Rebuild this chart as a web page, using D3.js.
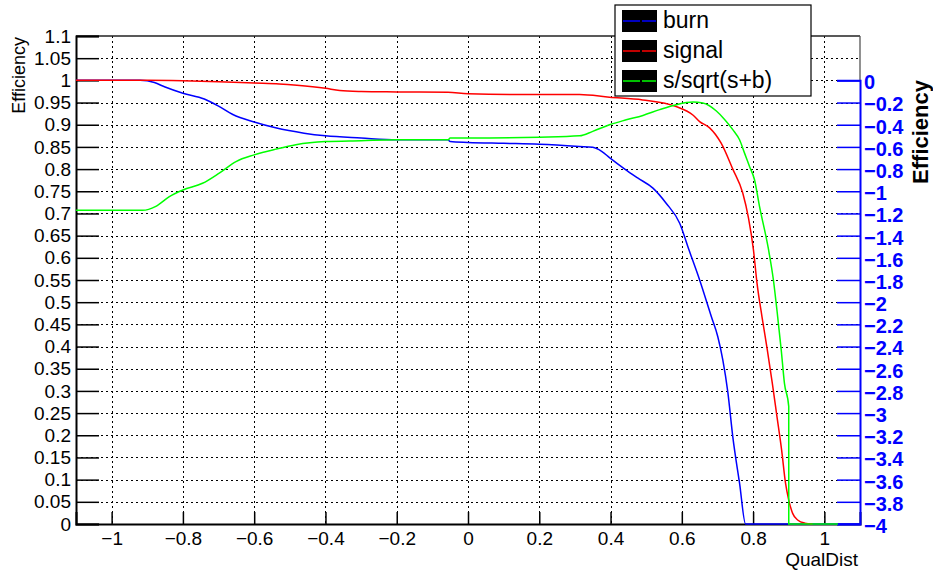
<!DOCTYPE html>
<html lang="en">
<head>
<meta charset="UTF-8">
<title>Efficiency vs QualDist</title>
<script src="https://d3js.org/d3.v7.min.js"></script>
<style>
	body{margin:0;background:#fff}
	svg{display:block;font-family:"Liberation Sans",Arial,sans-serif}
</style>
</head>
<body>
<svg id="chart" width="933" height="572"></svg>
<script>
// values
var burnX = [-1.1,-0.92,-0.88,-0.85,-0.8,-0.74,-0.7,-0.66,-0.6,-0.54,-0.46,-0.4,-0.3,-0.2,-0.056,-0.05,0,0.1,0.2,0.313,0.35,0.375,0.397,0.44,0.476,0.519,0.556,0.594,0.62,0.65,0.683,0.701,0.715,0.729,0.743,0.762,0.779,1.1];
var burnY = [1,1,0.995,0.985,0.971,0.958,0.942,0.923,0.906,0.893,0.881,0.875,0.870,0.866,0.866,0.862,0.860,0.858,0.856,0.851,0.849,0.840,0.826,0.800,0.780,0.757,0.723,0.678,0.618,0.550,0.467,0.422,0.370,0.298,0.197,0.092,0,0];

var signalX = [-1.1,-0.9,-0.8,-0.7,-0.6,-0.53,-0.48,-0.4,-0.36,-0.3,-0.2,-0.056,0,0.2,0.313,0.397,0.49,0.584,0.631,0.65,0.678,0.71,0.743,0.771,0.787,0.801,0.811,0.825,0.84,0.854,0.867,0.88,0.891,0.9,0.911,0.925,0.945,0.967];
var signalY = [1,1,0.999,0.997,0.994,0.992,0.989,0.982,0.977,0.975,0.974,0.973,0.970,0.968,0.968,0.962,0.956,0.941,0.922,0.907,0.893,0.859,0.800,0.746,0.690,0.618,0.543,0.467,0.392,0.317,0.242,0.167,0.092,0.054,0.024,0.009,0.002,0];

var ssbX = [-1.1,-0.913,-0.876,-0.838,-0.8,-0.745,-0.698,-0.651,-0.6,-0.539,-0.483,-0.4,-0.3,-0.2,-0.056,-0.05,0,0.2,0.313,0.35,0.397,0.444,0.491,0.538,0.584,0.631,0.659,0.697,0.72,0.743,0.762,0.776,0.79,0.804,0.818,0.843,0.857,0.869,0.879,0.888,0.9,0.9001,1.038];
var ssbY = [0.707,0.707,0.716,0.738,0.753,0.768,0.791,0.817,0.832,0.845,0.855,0.862,0.864,0.866,0.866,0.870,0.870,0.872,0.875,0.885,0.900,0.911,0.921,0.934,0.945,0.951,0.949,0.931,0.912,0.889,0.866,0.836,0.806,0.776,0.716,0.620,0.550,0.467,0.392,0.317,0.265,0,0];

var xTicks = [-1,-0.8,-0.6,-0.4,-0.2,0,0.2,0.4,0.6,0.8,1];
var yTicks = d3.range(0,23).map(function(i){return +(i*0.05).toFixed(2)});
var rTicks = d3.range(0,21).map(function(i){return +(-i*0.2).toFixed(1)});

var series = [
	{name:"burn", x:burnX, y:burnY, color:"#0000ff"},
	{name:"signal", x:signalX, y:signalY, color:"#ff0000"},
	{name:"s/sqrt(s+b)", x:ssbX, y:ssbY, color:"#00ff00"}
];

var svg = d3.select("#chart");
var L = 76, R = 860, T = 36, B = 524;

var x = d3.scaleLinear().domain([-1.1,1.1]).range([L,R]);
var y = d3.scaleLinear().domain([0,1.1]).range([B,T]);
var yr = d3.scaleLinear().domain([-4,0]).range([B,y(1)]);

function fmt(v){ return String(+v.toFixed(2)).replace("-","\u2212"); }

// grid
var grid = svg.append("g").attr("shape-rendering","crispEdges");
grid.selectAll(".gx").data(xTicks).enter().append("line")
	.attr("x1",function(d){return Math.round(x(d))+0.5}).attr("x2",function(d){return Math.round(x(d))+0.5})
	.attr("y1",T).attr("y2",B)
	.attr("stroke","#000").attr("stroke-dasharray","2,3");
grid.selectAll(".gy").data(yTicks.slice(1,22)).enter().append("line")
	.attr("y1",function(d){return Math.round(y(d))+0.5}).attr("y2",function(d){return Math.round(y(d))+0.5})
	.attr("x1",L).attr("x2",R)
	.attr("stroke","#000").attr("stroke-dasharray","2,3");

// frame
svg.append("line").attr("x1",L).attr("x2",R).attr("y1",T).attr("y2",T).attr("stroke","#222").attr("stroke-width",1.3);
svg.append("line").attr("x1",R).attr("x2",R).attr("y1",T).attr("y2",y(1)).attr("stroke","#555").attr("stroke-width",1.3);

// left axis
var yAxis = d3.axisLeft(y).tickValues(yTicks).tickSize(-23).tickPadding(5).tickFormat(fmt);
var gy = svg.append("g").attr("transform","translate("+L+",0)").call(yAxis);
gy.select(".domain").attr("stroke","#000").attr("stroke-width",2);
gy.selectAll(".tick line").attr("stroke","#000").attr("stroke-width",1.5);
gy.selectAll(".tick text").attr("font-size",19).attr("fill","#000").attr("font-family","Liberation Sans, Arial, sans-serif");

// bottom axis
var xAxis = d3.axisBottom(x).tickValues(xTicks).tickSize(-12).tickPadding(8).tickFormat(fmt);
var gx = svg.append("g").attr("transform","translate(0,"+B+")").call(xAxis);
gx.select(".domain").attr("stroke","#000").attr("stroke-width",2);
gx.selectAll(".tick line").attr("stroke","#000").attr("stroke-width",1.5);
gx.selectAll(".tick text").attr("font-size",19).attr("fill","#000").attr("font-family","Liberation Sans, Arial, sans-serif");

// right axis
var rAxis = d3.axisRight(yr).tickValues(rTicks).tickSize(-23).tickPadding(4).tickFormat(fmt);
var gr = svg.append("g").attr("transform","translate("+R+",0)").call(rAxis);
gr.select(".domain").attr("stroke","#0000ff").attr("stroke-width",2);
gr.selectAll(".tick line").attr("stroke","#0000ff").attr("stroke-width",1.5);
gr.selectAll(".tick text").attr("font-size",20).attr("font-weight","bold").attr("fill","#0000ff")
	.attr("font-family","Liberation Sans, Arial, sans-serif").attr("dy","0.42em");

// axis titles
svg.append("text").attr("transform","translate(25,37) rotate(-90)").attr("text-anchor","end")
	.attr("font-size",18).text("Efficiency");
svg.append("text").attr("transform","translate(928,80) rotate(-90)").attr("text-anchor","end")
	.attr("font-size",22).attr("font-weight","bold").text("Efficiency");
svg.append("text").attr("x",858).attr("y",566).attr("text-anchor","end")
	.attr("font-size",19).text("QualDist");

// curves
var line = d3.line().curve(d3.curveMonotoneX)
	.x(function(d){return x(d[0])}).y(function(d){return y(d[1])});
series.forEach(function(s){
	var pts = s.x.map(function(v,i){return [v,s.y[i]]});
	svg.append("path").datum(pts).attr("d",line)
		.attr("fill","none").attr("stroke",s.color).attr("stroke-width",1.5);
});

// legend
var lg = svg.append("g");
lg.append("rect").attr("x",615).attr("y",5).attr("width",196).attr("height",91)
	.attr("fill","#fff").attr("stroke","#000").attr("stroke-width",1.2);
series.forEach(function(s,i){
	var yy = 10 + i*30;
	lg.append("rect").attr("x",622).attr("y",yy).attr("width",35).attr("height",22).attr("fill","#000");
	lg.append("line").attr("x1",623).attr("x2",656).attr("y1",yy+11).attr("y2",yy+11)
		.attr("stroke",s.color).attr("stroke-width",1.5).attr("stroke-dasharray","17,2,16");
	lg.append("text").attr("x",663).attr("y",yy+18).attr("font-size",23).attr("fill","#000").text(s.name);
});
</script>
</body>
</html>
